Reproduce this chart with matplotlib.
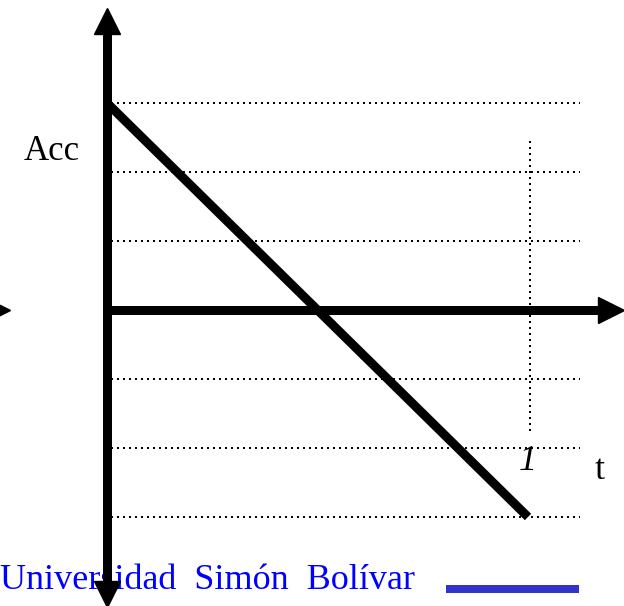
import matplotlib.pyplot as plt

# acceleration vs time diagram (units: t in [0, 1], acc levels of one step)
grid_levels = [3, 2, 1, -1, -2, -3]
line_t = [0, 1]
line_acc = [3, -3]
mark_t = 1.0
mark_label = "1"
y_label = "Acc"
x_label = "t"
footer = "Universidad  Simón  Bolívar"

px = 100 / 72  # pixels per point at dpi 100
fig = plt.figure(figsize=(6.24, 6.06), dpi=100)
ax = fig.add_axes([0, 0, 1, 1])
ax.set_xlim(-107 / 421, 517 / 421)
ax.set_ylim(-296 / 69, 310 / 69)
ax.axis("off")

serif = "Liberation Serif"
thick = 9 / px
head = 26 / px
dots = (0, (1, 2.0))

# dotted guides
for lev in grid_levels:
    ax.plot([0.01, 1.124], [lev, lev], color="black", lw=2 / px,
            linestyle=dots, zorder=1)
ax.plot([mark_t + 0.005, mark_t + 0.005], [2.45, -1.78], color="black",
        lw=2 / px, linestyle=dots, zorder=1)

# footer text (behind the axis arrow)
ax.text(-107 / 421, -279 / 69, footer, color="#0000ff", fontsize=26,
        family=serif, ha="left", va="baseline", zorder=2)
ax.plot([0.805, 1.12], [-4.04, -4.04], color="#3333cc", lw=8 / px,
        solid_capstyle="butt", zorder=2)

# vertical axis
ax.plot([0, 0], [-4.0, 4.1], color="black", lw=thick,
        solid_capstyle="butt", zorder=4)
ax.plot([0], [4.19], marker="^", markersize=head, color="black", zorder=4)
ax.plot([0], [-4.12], marker="v", markersize=head, color="black", zorder=4)

# horizontal axis
ax.plot([0.01, 1.2], [0, 0], color="black", lw=thick,
        solid_capstyle="butt", zorder=4)
ax.plot([(611 - 107) / 421], [0], marker=">", markersize=head,
        color="black", zorder=4)
ax.plot([(-3 - 107) / 421], [0], marker=">", markersize=head,
        color="black", zorder=4, clip_on=False)

# acceleration line
ax.plot(line_t, line_acc, color="black", lw=thick, solid_capstyle="butt",
        zorder=3)

# labels
ax.text((52 - 107) / 421, (310 - 160) / 69, y_label, fontsize=25,
        family=serif, ha="center", va="baseline", zorder=5)
ax.text(mark_t, (310 - 470) / 69, mark_label, fontsize=26, style="italic",
        family=serif, ha="center", va="baseline", zorder=5)
ax.text((600 - 107) / 421, (310 - 479) / 69, x_label, fontsize=26,
        family=serif, ha="center", va="baseline", zorder=5)

fig.savefig("out.png", dpi=100)
